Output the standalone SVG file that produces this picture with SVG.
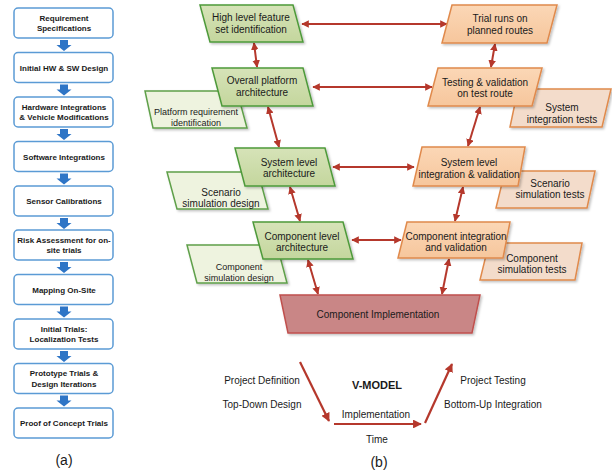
<svg xmlns="http://www.w3.org/2000/svg" width="612" height="470" viewBox="0 0 612 470">
<defs>
<style>
.lb{fill:#fff;stroke:#5b9bd5;stroke-width:1.5}
.lt{font-family:"Liberation Sans",Arial,sans-serif;font-weight:bold;font-size:8px;fill:#1a1a1a;text-anchor:middle}
.ba{fill:#2e75c6}
.t{font-family:"Liberation Sans",Arial,sans-serif;font-size:10px;fill:#1a1a1a;text-anchor:middle}
.ts{font-family:"Liberation Sans",Arial,sans-serif;font-size:9px;fill:#1a1a1a;text-anchor:middle}
.g{fill:url(#gg);stroke:#4e9a3a;stroke-width:1.5;filter:url(#sh)}
.gs{fill:#eef3df;stroke:#5fa04a;stroke-width:1.5;filter:url(#sh)}
.o{fill:url(#og);stroke:#e08a4c;stroke-width:1.5;filter:url(#sh)}
.os{fill:#f3dccb;stroke:#e08a4c;stroke-width:1.5;filter:url(#sh)}
.r{fill:#c98686;stroke:#c0504d;stroke-width:1.5;filter:url(#sh)}
.c{stroke:#b5382c;stroke-width:2;fill:none;marker-start:url(#ah);marker-end:url(#ah)}
.v{stroke:#b5382c;stroke-width:2.2;fill:none;marker-end:url(#av)}
</style>
<linearGradient id="gg" x1="0" y1="0" x2="0" y2="1"><stop offset="0" stop-color="#d6e3b8"/><stop offset="1" stop-color="#c4d69d"/></linearGradient>
<linearGradient id="og" x1="0" y1="0" x2="0" y2="1"><stop offset="0" stop-color="#fbd7b6"/><stop offset="1" stop-color="#f6c69c"/></linearGradient>
<filter id="sh" x="-10%" y="-10%" width="130%" height="140%"><feDropShadow dx="1.5" dy="1.5" stdDeviation="1" flood-color="#000" flood-opacity="0.25"/></filter>
<marker id="ah" viewBox="0 0 10 10" refX="9" refY="5" markerWidth="3.8" markerHeight="3.8" orient="auto-start-reverse"><path d="M0,0 L10,5 L0,10 z" fill="#b5382c"/></marker>
<marker id="av" viewBox="0 0 10 10" refX="9" refY="5" markerWidth="4" markerHeight="4" orient="auto"><path d="M0,0 L10,5 L0,10 z" fill="#b5382c"/></marker>
</defs>

<g id="panel-a">
<g id="a1"><rect class="lb" x="14" y="8" width="99" height="30" rx="4"/><text class="lt" x="64" y="20.5">Requirement</text><text class="lt" x="64" y="31">Specifications</text></g>
<g id="a2"><rect class="lb" x="14" y="52.5" width="99" height="30" rx="4"/><text class="lt" x="64" y="70.5">Initial HW &amp; SW Design</text></g>
<g id="a3"><rect class="lb" x="14" y="97" width="99" height="30" rx="4"/><text class="lt" x="64" y="109.5">Hardware Integrations</text><text class="lt" x="64" y="120">&amp; Vehicle Modifications</text></g>
<g id="a4"><rect class="lb" x="14" y="141.5" width="99" height="30" rx="4"/><text class="lt" x="64" y="159.5">Software Integrations</text></g>
<g id="a5"><rect class="lb" x="14" y="186" width="99" height="30" rx="4"/><text class="lt" x="64" y="204">Sensor Calibrations</text></g>
<g id="a6"><rect class="lb" x="14" y="230" width="99" height="30" rx="4"/><text class="lt" x="64" y="242.5">Risk Assessment for on-</text><text class="lt" x="64" y="253">site trials</text></g>
<g id="a7"><rect class="lb" x="14" y="274.5" width="99" height="30" rx="4"/><text class="lt" x="64" y="292.5">Mapping On-Site</text></g>
<g id="a8"><rect class="lb" x="14" y="319" width="99" height="30" rx="4"/><text class="lt" x="64" y="331.5">Initial Trials:</text><text class="lt" x="64" y="342">Localization Tests</text></g>
<g id="a9"><rect class="lb" x="14" y="363.5" width="99" height="30" rx="4"/><text class="lt" x="64" y="376">Prototype Trials &amp;</text><text class="lt" x="64" y="386.5">Design Iterations</text></g>
<g id="a10"><rect class="lb" x="14" y="408" width="99" height="30" rx="4"/><text class="lt" x="64" y="426">Proof of Concept Trials</text></g>
<g id="a-arrows">
<path class="ba" d="M60,40 h8 v5 h3.5 l-7.5,6 l-7.5,-6 h3.5 z"/>
<path class="ba" d="M60,84.5 h8 v5 h3.5 l-7.5,6 l-7.5,-6 h3.5 z"/>
<path class="ba" d="M60,129 h8 v5 h3.5 l-7.5,6 l-7.5,-6 h3.5 z"/>
<path class="ba" d="M60,173.5 h8 v5 h3.5 l-7.5,6 l-7.5,-6 h3.5 z"/>
<path class="ba" d="M60,218 h8 v5 h3.5 l-7.5,6 l-7.5,-6 h3.5 z"/>
<path class="ba" d="M60,262 h8 v5 h3.5 l-7.5,6 l-7.5,-6 h3.5 z"/>
<path class="ba" d="M60,306.5 h8 v5 h3.5 l-7.5,6 l-7.5,-6 h3.5 z"/>
<path class="ba" d="M60,351 h8 v5 h3.5 l-7.5,6 l-7.5,-6 h3.5 z"/>
<path class="ba" d="M60,395.5 h8 v5 h3.5 l-7.5,6 l-7.5,-6 h3.5 z"/>
</g>
<text x="64" y="465" font-family="Liberation Sans,Arial,sans-serif" font-size="14" fill="#1a1a1a" text-anchor="middle">(a)</text>
</g>

<g id="panel-b">
<g id="connectors">
<line class="c" x1="302" y1="24" x2="447" y2="24"/>
<line class="c" x1="313" y1="87" x2="432" y2="87"/>
<line class="c" x1="333" y1="167" x2="414" y2="167"/>
<line class="c" x1="352" y1="240" x2="401" y2="240"/>
<line class="c" x1="254" y1="43" x2="257" y2="67"/>
<line class="c" x1="268" y1="107" x2="279" y2="147"/>
<line class="c" x1="290" y1="187" x2="300" y2="221"/>
<line class="c" x1="308" y1="260" x2="318" y2="294"/>
<line class="c" x1="495" y1="44" x2="491" y2="67"/>
<line class="c" x1="480" y1="107" x2="468" y2="146"/>
<line class="c" x1="463" y1="187" x2="455" y2="221"/>
<line class="c" x1="449" y1="259" x2="442" y2="294"/>
</g>

<g id="sub-platform"><polygon class="gs" points="145,91 237,91 247,128 153,128"/><text class="ts" x="196" y="115">Platform requirement</text><text class="ts" x="196" y="125.5">identification</text></g>
<g id="sub-scenario-design"><polygon class="gs" points="167,172 258,172 268,209 177,209"/><text class="t" x="221" y="195.5">Scenario</text><text class="t" x="221" y="207">simulation design</text></g>
<g id="sub-component-design"><polygon class="gs" points="187,245 277,245 287,283 197,283"/><text class="ts" x="239" y="270">Component</text><text class="ts" x="239" y="280.5">simulation design</text></g>
<g id="sub-system-tests"><polygon class="os" points="518,89 611,89 602,127 510,127"/><text class="t" x="562" y="111">System</text><text class="t" x="562" y="122.5">integration tests</text></g>
<g id="sub-scenario-tests"><polygon class="os" points="505,171 595,171 587,208 496,208"/><text class="t" x="550" y="186.5">Scenario</text><text class="t" x="550" y="198">simulation tests</text></g>
<g id="sub-component-tests"><polygon class="os" points="489,243 582,243 575,280 480,280"/><text class="t" x="532" y="261.5">Component</text><text class="t" x="532" y="273">simulation tests</text></g>

<g id="n-high"><polygon class="g" points="200,5 293,5 303,42 210,42"/><text class="t" x="251" y="21">High level feature</text><text class="t" x="251" y="33">set identification</text></g>
<g id="n-overall"><polygon class="g" points="212,68 303,68 313,106 222,106"/><text class="t" x="262" y="84">Overall platform</text><text class="t" x="262" y="96">architecture</text></g>
<g id="n-system"><polygon class="g" points="235,148 325,148 335,186 245,186"/><text class="t" x="289" y="165.5">System level</text><text class="t" x="289" y="177">architecture</text></g>
<g id="n-component"><polygon class="g" points="253,222 343,222 353,259 263,259"/><text class="t" x="302" y="239.5">Component level</text><text class="t" x="302" y="251">architecture</text></g>
<g id="n-trial"><polygon class="o" points="452,5 557,5 547,43 442,43"/><text class="t" x="500" y="22">Trial runs on</text><text class="t" x="500" y="34">planned routes</text></g>
<g id="n-testing"><polygon class="o" points="438,68 542,68 532,106 428,106"/><text class="t" x="485" y="85.5">Testing &amp; validation</text><text class="t" x="485" y="97">on test route</text></g>
<g id="n-sysint"><polygon class="o" points="422,147 525,147 518,186 413,186"/><text class="t" x="469" y="165.5">System level</text><text class="t" x="469" y="177.5">integration &amp; validation</text></g>
<g id="n-compint"><polygon class="o" points="407,222 510,222 503,258 398,258"/><text class="t" x="456" y="239.5">Component integration</text><text class="t" x="456" y="251">and validation</text></g>
<g id="n-impl"><polygon class="r" points="280,295 480,295 472,333 288,333"/><text class="t" x="378" y="317.5">Component Implementation</text></g>

<g id="vmodel">
<line class="v" x1="300" y1="362" x2="329" y2="421"/>
<line class="v" x1="334" y1="424" x2="421" y2="424"/>
<line class="v" x1="425" y1="423" x2="452" y2="364"/>
<text class="t" x="262" y="384">Project Definition</text>
<text class="t" x="262" y="408">Top-Down Design</text>
<text x="377" y="389" font-family="Liberation Sans,Arial,sans-serif" font-size="11" font-weight="bold" fill="#1a1a1a" text-anchor="middle">V-MODEL</text>
<text class="t" x="376" y="418">Implementation</text>
<text class="t" x="377" y="443">Time</text>
<text class="t" x="493" y="384">Project Testing</text>
<text class="t" x="493" y="408">Bottom-Up Integration</text>
</g>
<text x="379" y="467" font-family="Liberation Sans,Arial,sans-serif" font-size="14" fill="#1a1a1a" text-anchor="middle">(b)</text>
</g>
</svg>
